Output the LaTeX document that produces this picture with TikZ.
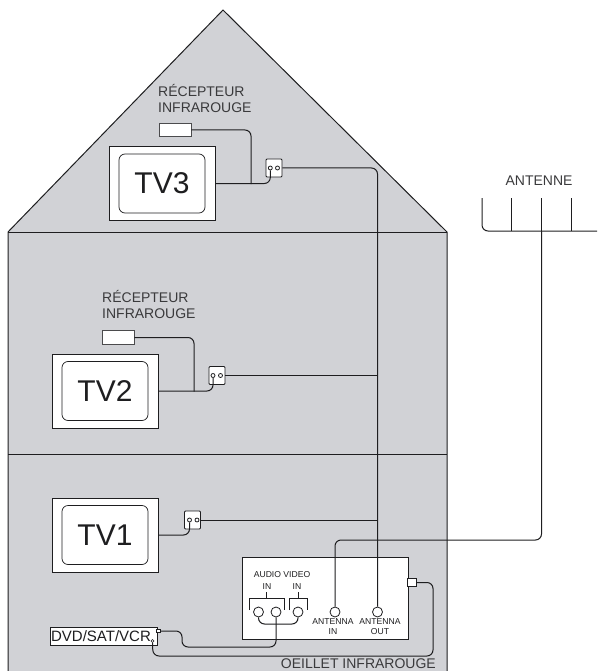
\documentclass[tikz,border=0pt]{standalone}
\usepackage{fontspec}
\setmainfont{Liberation Sans}
\definecolor{wall}{HTML}{D1D2D6}
\definecolor{ink}{HTML}{1E1E20}
\definecolor{lab}{HTML}{3A3A3C}
\tikzset{
  wire/.style={draw=ink,line width=1pt,rounded corners=6pt},
  tvouter/.style={draw=ink,line width=0.9pt,fill=white,minimum width=106pt,minimum height=74pt,inner sep=0pt},
  tvinner/.style={draw=ink,line width=0.7pt,fill=white,rounded corners=6pt,minimum width=86pt,minimum height=59pt,inner sep=0pt,font=\fontsize{30}{30}\selectfont,text=ink},
  irbox/.style={draw=ink!80,line width=0.9pt,fill=white,minimum width=32pt,minimum height=13.5pt,inner sep=0pt},
  outlet/.style={draw=ink,line width=0.8pt,fill=white,rounded corners=1pt,minimum width=16pt,minimum height=18pt,inner sep=0pt},
  hole/.style={circle,draw=ink,line width=0.8pt,fill=white,minimum size=4pt,inner sep=0pt},
  jack/.style={circle,draw=ink,line width=0.8pt,fill=white,minimum size=10pt,inner sep=0pt},
  lbl/.style={text=lab,inner sep=0pt,font=\fontsize{14}{16.5}\selectfont,align=left},
  tiny/.style={text=ink,inner sep=0pt,font=\fontsize{8.6}{10}\selectfont,align=center}
}
\begin{document}
\begin{tikzpicture}[x=1pt,y=-1pt]
\useasboundingbox (0,0) rectangle (597,671);
% house
\fill[wall] (8,232) -- (223,10) -- (447,232) -- (447,671) -- (8,671) -- cycle;
\draw[ink,line width=1pt] (8,671) -- (8,232) -- (223,10) -- (447,232) -- (447,671);
\draw[ink,line width=1pt] (8,232) -- (447,232);
\draw[ink,line width=1pt] (8,454) -- (447,454);
% TV3
\node[tvouter] (t3o) at (162,183.5) {};
\node[tvinner] (t3) at (162,183.5) {TV3};
\node[irbox] (r3) at (175,130) {};
\node[lbl,anchor=west] (l3) at (158,98.5) {RÉCEPTEUR\\INFRAROUGE};
\node[outlet] (o3) at (274,168) {};
\node[hole] (h3a) at (270.3,168) {};
\node[hole] (h3b) at (277.5,168) {};
% TV2
\node[tvouter] (t2o) at (105,391) {};
\node[tvinner] (t2) at (105,391) {TV2};
\node[irbox] (r2) at (118,337.5) {};
\node[lbl,anchor=west] (l2) at (102,304.5) {RÉCEPTEUR\\INFRAROUGE};
\node[outlet] (o2) at (217,375.5) {};
\node[hole] (h2a) at (213,375.5) {};
\node[hole] (h2b) at (220.5,375.5) {};
% TV1
\node[tvouter] (t1o) at (105,535) {};
\node[tvinner] (t1) at (105,535) {TV1};
\node[outlet] (o1) at (192.5,520) {};
\node[hole] (h1a) at (189.5,520) {};
\node[hole] (h1b) at (197,520) {};
% receiver
\node[draw=ink,line width=0.9pt,fill=white,minimum width=166pt,minimum height=82pt,inner sep=0pt] (rx) at (325,598) {};
\node[draw=ink,line width=0.8pt,fill=white,minimum size=8.5pt,inner sep=0pt] (irport) at (412,582.5) {};
\node[tiny] (tav) at (282,575) {AUDIO VIDEO};
\node[tiny] (tin1) at (267,586.5) {IN};
\node[tiny] (tin2) at (297,586.5) {IN};
\node[jack] (ja) at (258.5,612) {};
\node[jack] (jb) at (276,612) {};
\node[jack] (jc) at (298,612) {};
\node[jack] (ain) at (335,612) {};
\node[jack] (aout) at (377.5,612) {};
\node[tiny] (tai) at (333,627) {ANTENNA\\IN};
\node[tiny] (tao) at (380,627) {ANTENNA\\OUT};
% brackets
\coordinate (b1a) at (249,610); \coordinate (b1b) at (284,610);
\coordinate (b2a) at (289,610); \coordinate (b2b) at (307,610);
\draw[ink,line width=0.7pt] (b1a) -- (249,598) -- (284,598) -- (b1b);
\draw[ink,line width=0.7pt] (266.5,598) -- (266.5,591.5);
\draw[ink,line width=0.7pt] (b2a) -- (289,598) -- (307,598) -- (b2b);
\draw[ink,line width=0.7pt] (298,598) -- (298,591.5);
% DVD
\node[draw=ink,line width=0.9pt,fill=white,minimum width=107pt,minimum height=18.5pt,inner sep=0pt,font=\fontsize{15}{16}\selectfont,text=ink] (dvd) at (103.5,636.5) {\hspace*{-5pt}DVD/SAT/VCR};
\node[draw=ink,line width=0.6pt,fill=white,minimum size=3.5pt,inner sep=0pt] (dvdout) at (158.5,631) {};
\node[circle,draw=ink,line width=0.6pt,fill=white,minimum size=3pt,inner sep=0pt] (dvdir) at (152.5,641) {};
% antenna
\node[lbl,anchor=center] (antlbl) at (539,181) {ANTENNE};
\coordinate (a1) at (482,198); \coordinate (a2) at (511.5,198); \coordinate (a3) at (541.5,198); \coordinate (a4) at (571.5,198);
\coordinate (abus) at (597,231);
\coordinate (ac) at (541.5,540);
% wires
\draw[wire] (r3.east) -| (251,184);
\draw[wire] (t3o.east) -| (h3a.south);
\draw[wire] (o3.east) -| (aout.north);
\draw[wire] (r2.east) -| (194,391.5);
\draw[wire] (t2o.east) -| (h2a.south);
\draw[wire] (o2.east) -- (o2.east -| aout);
\draw[wire] (t1o.east) -| (h1a.south);
\draw[wire] (o1.east) -- (o1.east -| aout);
\draw[wire] (ain.north) |- (ac) -- (a3 |- abus);
\draw[wire] (a1) |- (abus);
\draw[ink,line width=0.9pt] (a2) -- (a2 |- abus);
\draw[ink,line width=0.9pt] (a3) -- (a3 |- abus);
\draw[ink,line width=0.9pt] (a4) -- (a4 |- abus);
\draw[wire] (ja.south) |- (298,624) -- (jc.south);
\draw[wire] (dvdout.east) -- (182,631) |- (276,647) -- (jb.south);
\draw[wire] (irport.east) -- (433,582.5) |- (153,656) -- (dvdir.south);
\node[lbl,anchor=east] (oe) at (436,663.5) {OEILLET INFRAROUGE};
\end{tikzpicture}
\end{document}
